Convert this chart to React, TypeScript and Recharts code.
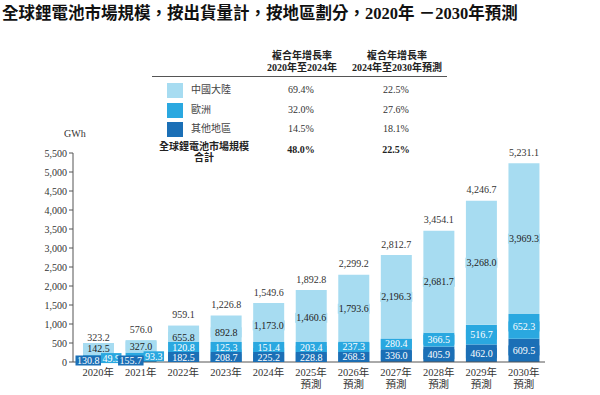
import React from "react";
import { BarChart, Bar, XAxis, YAxis } from "recharts";

const years = ["2020", "2021", "2022", "2023", "2024", "2025", "2026", "2027", "2028", "2029", "2030"];
const forecastFrom = 2025;
const others = [130.8, 155.7, 182.5, 208.7, 225.2, 228.8, 268.3, 336.0, 405.9, 462.0, 609.5];
const europe = [49.9, 93.3, 120.8, 125.3, 151.4, 203.4, 237.3, 280.4, 366.5, 516.7, 652.3];
const china = [142.5, 327.0, 655.8, 892.8, 1173.0, 1460.6, 1793.6, 2196.3, 2681.7, 3268.0, 3969.3];
const totals = [323.2, 576.0, 959.1, 1226.8, 1549.6, 1892.8, 2299.2, 2812.7, 3454.1, 4246.7, 5231.1];
const yTicks = [0, 500, 1000, 1500, 2000, 2500, 3000, 3500, 4000, 4500, 5000, 5500];

const regions = ["中國大陸", "歐洲", "其他地區"];
const cagr2020to2024 = ["69.4%", "32.0%", "14.5%"];
const cagr2024to2030 = ["22.5%", "27.6%", "18.1%"];
const totalCagr = ["48.0%", "22.5%"];

const COLORS = { china: "#a7dcf1", europe: "#2aa8e0", others: "#1b6fb6" };
const FONT = "'Liberation Serif', 'Noto Sans CJK TC', serif";
const LFS = 10;

const data = years.map((y, i) => ({
  year: y,
  others: others[i],
  europe: europe[i],
  china: china[i],
}));

const fmt = (v: number) =>
  v.toLocaleString("en-US", { minimumFractionDigits: 1, maximumFractionDigits: 1 });

const textW = (s: string) => {
  let w = 0;
  for (const c of s) w += c === "." || c === "," ? 0.25 : 0.5;
  return w * LFS;
};

function Box({ cx, cy, w, fill, text, color }: any) {
  return (
    <g>
      <rect x={cx - w / 2} y={cy - 5} width={w} height={10} fill={fill} />
      <text x={cx} y={cy} dy="0.35em" textAnchor="middle" fontSize={LFS} fill={color} fontFamily={FONT}>
        {text}
      </text>
    </g>
  );
}

const renderLabels = (props: any) => {
  const vb = props.viewBox ?? props;
  const x = vb.x ?? props.x;
  const y = vb.y ?? props.y;
  const w = vb.width ?? props.width;
  const h = vb.height ?? props.height;
  let i = props.index;
  if (i == null) i = china.indexOf(props.value);
  if (i == null || i < 0) return null;
  const k = h / china[i];
  const base = y + h + (others[i] + europe[i]) * k;
  const cx = x + w / 2;
  const dH = others[i] * k;
  const eH = europe[i] * k;
  const cH = china[i] * k;
  const sD = fmt(others[i]);
  const sE = fmt(europe[i]);
  const sC = fmt(china[i]);

  let dark: any, eu: any, ch: any;
  if (eH < 4.5) {
    // tiny segments: put the two lower labels side by side
    const wD = textW(sD) + 3;
    const wE = textW(sE) + 3;
    const left = cx - (wD + wE) / 2;
    dark = { cx: left + wD / 2, cy: base - 1.5, w: wD };
    eu = { cx: left + wD + wE / 2, cy: Math.min(base - dH - eH / 2 + 2, base - 3.5), w: wE };
    ch = { cx, cy: Math.min(base - dH - eH - cH / 2, dark.cy - 12.5), w: Math.max(w, textW(sC) + 2) };
  } else {
    dark = { cx, cy: base - Math.max(dH / 2, 5), w: Math.max(w, textW(sD) + 2) };
    eu = { cx, cy: Math.min(base - dH - eH / 2, dark.cy - 10), w: Math.max(w, textW(sE) + 2) };
    ch = { cx, cy: Math.min(base - dH - eH - cH / 2, eu.cy - 10), w: Math.max(w, textW(sC) + 2) };
  }
  const topY = base - totals[i] * k;
  const totalY = Math.min(topY - 11, ch.cy - 11);
  return (
    <g>
      <Box {...ch} fill={COLORS.china} text={sC} color="#222" />
      <Box {...eu} fill={COLORS.europe} text={sE} color="#fff" />
      <Box {...dark} fill={COLORS.others} text={sD} color="#fff" />
      <text x={cx} y={totalY} dy="0.35em" textAnchor="middle" fontSize={LFS} fill="#333" fontFamily={FONT}>
        {fmt(totals[i])}
      </text>
    </g>
  );
};

const XTick = (props: any) => {
  const { x, y, payload } = props;
  const yr = Number(payload.value);
  return (
    <g>
      <text x={x} y={y + 2} textAnchor="middle" fontSize={10.5} fill="#333" fontFamily={FONT} dy="0.35em">
        {payload.value + "年"}
      </text>
      {yr >= forecastFrom && (
        <text x={x} y={y + 14} textAnchor="middle" fontSize={10.5} fill="#333" fontFamily={FONT} dy="0.35em">
          預測
        </text>
      )}
    </g>
  );
};

const headStyle: React.CSSProperties = {
  position: "absolute",
  fontWeight: "bold",
  fontSize: 10,
  lineHeight: "12px",
  textAlign: "center",
  color: "#222",
  whiteSpace: "nowrap",
  transform: "translateX(-50%)",
};

const cellStyle: React.CSSProperties = {
  position: "absolute",
  fontSize: 10,
  lineHeight: "12px",
  color: "#333",
  whiteSpace: "nowrap",
};

export default function App() {
  const swatch = [COLORS.china, COLORS.europe, COLORS.others];
  const rowY = [90, 110, 129];
  return (
    <div
      style={{
        position: "absolute",
        left: 0,
        top: 0,
        width: 600,
        height: 395,
        background: "#fff",
        fontFamily: FONT,
        overflow: "hidden",
      }}
    >
      <div
        style={{
          position: "absolute",
          left: 2,
          top: 4,
          fontSize: 16.5,
          lineHeight: "20px",
          fontWeight: "bold",
          color: "#111",
          whiteSpace: "nowrap",
        }}
      >
        全球鋰電池市場規模，按出貨量計，按地區劃分，2020年 －2030年預測
      </div>

      <div style={{ ...headStyle, left: 302, top: 50 }}>
        複合年增長率
        <br />
        2020年至2024年
      </div>
      <div style={{ ...headStyle, left: 397, top: 50 }}>
        複合年增長率
        <br />
        2024年至2030年預測
      </div>
      <div style={{ position: "absolute", left: 152, top: 76, width: 295, height: 1, background: "#555" }} />

      {regions.map((r, i) => (
        <React.Fragment key={r}>
          <div
            style={{
              position: "absolute",
              left: 167,
              top: rowY[i] - 7.5,
              width: 16,
              height: 15,
              background: swatch[i],
            }}
          />
          <div style={{ ...cellStyle, left: 191, top: rowY[i] - 6, color: "#444" }}>{r}</div>
          <div style={{ ...cellStyle, left: 301, top: rowY[i] - 6, transform: "translateX(-50%)" }}>
            {cagr2020to2024[i]}
          </div>
          <div style={{ ...cellStyle, left: 396, top: rowY[i] - 6, transform: "translateX(-50%)" }}>
            {cagr2024to2030[i]}
          </div>
        </React.Fragment>
      ))}
      <div
        style={{
          ...cellStyle,
          left: 204,
          top: 141,
          transform: "translateX(-50%)",
          textAlign: "center",
          lineHeight: "11px",
          color: "#222",
          fontWeight: "bold",
        }}
      >
        全球鋰電池市場規模
        <br />
        合計
      </div>
      <div style={{ ...cellStyle, left: 301, top: 144, transform: "translateX(-50%)", fontWeight: "bold", color: "#222" }}>
        {totalCagr[0]}
      </div>
      <div style={{ ...cellStyle, left: 396, top: 144, transform: "translateX(-50%)", fontWeight: "bold", color: "#222" }}>
        {totalCagr[1]}
      </div>

      <div style={{ position: "absolute", left: 64, top: 128, fontSize: 10, color: "#333" }}>GWh</div>

      <div style={{ position: "absolute", left: 0, top: 0 }}>
        <BarChart
          width={600}
          height={395}
          data={data}
          margin={{ top: 153, right: 55, left: 13, bottom: 0 }}
          barCategoryGap={0}
        >
          <XAxis
            dataKey="year"
            height={33}
            interval={0}
            tickLine={false}
            axisLine={{ stroke: "#555" }}
            padding={{ left: 4, right: 0 }}
            tick={<XTick />}
          />
          <YAxis
            width={60}
            domain={[0, 5500]}
            ticks={yTicks}
            interval={0}
            tickSize={4}
            tickLine={{ stroke: "#555" }}
            axisLine={{ stroke: "#555" }}
            tick={{ fontSize: 10, fill: "#333", fontFamily: FONT }}
            tickFormatter={(v: number) => v.toLocaleString("en-US")}
          />
          <Bar dataKey="others" stackId="a" fill={COLORS.others} barSize={31} isAnimationActive={false} />
          <Bar dataKey="europe" stackId="a" fill={COLORS.europe} barSize={31} isAnimationActive={false} />
          <Bar
            dataKey="china"
            stackId="a"
            fill={COLORS.china}
            barSize={31}
            isAnimationActive={false}
            label={renderLabels}
          />
        </BarChart>
      </div>
    </div>
  );
}
